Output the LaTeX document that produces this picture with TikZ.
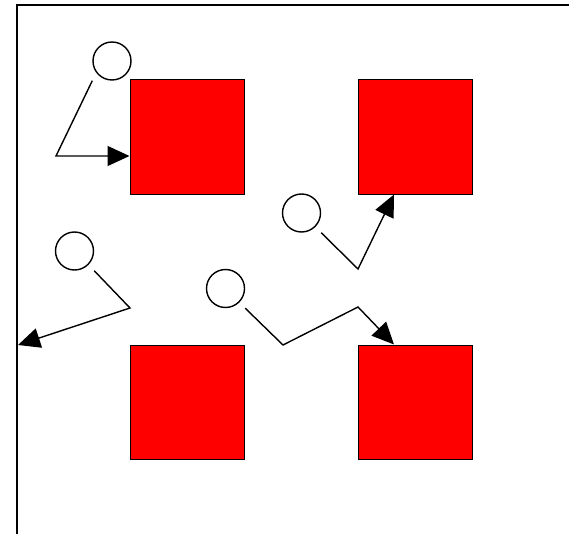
\documentclass[tikz,border=0pt]{standalone}
\usetikzlibrary{arrows.meta}
\begin{document}
\begin{tikzpicture}[x=1bp, y=-1bp, line width=1.4bp]
		\tikzstyle{box} = [rectangle, draw=black, line width=1bp, fill=red, minimum size=114bp, inner sep=0pt]
		\tikzstyle{agent} = [circle, draw, minimum size=38bp, inner sep=0pt]
		\tikzstyle{move} = [-{Triangle[length=22bp, width=20bp]}]
		\useasboundingbox (0,0) rectangle (569,534);
		\draw[line width=2bp] (17,534) -- (17,5) -- (569,5);
		\node[box](S1) at (187,137) {};
		\node[box](S2) at (415,137) {};
		\node[box](S3) at (187,402) {};
		\node[box](S4) at (415,402) {};
		\node[agent](A) at (112,61) {};
		\node[agent](B) at (74.5,251) {};
		\node[agent](C) at (301.5,213) {};
		\node[agent](D) at (225.5,288.5) {};
		\coordinate (a1) at (56,156);
		\coordinate (b1) at (130,308);
		\coordinate (b2) at (18,345);
		\coordinate (c1) at (358,269);
		\coordinate (c2) at (394,194);
		\coordinate (d1) at (283,345);
		\coordinate (d2) at (358,307);
		\coordinate (d3) at (394,345);
		\draw[move] (A.west |- A.south) -- (a1) -- (a1 -| S1.west);
		\draw[move] (B.east |- B.south) -- (b1) -- (b2);
		\draw[move] (C.east |- C.south) -- (c1) -- (c2 |- S2.south);
		\draw[move] (D.east |- D.south) -- (d1) -- (d2) -- (d3 |- S4.north);
	\end{tikzpicture}
\end{document}
